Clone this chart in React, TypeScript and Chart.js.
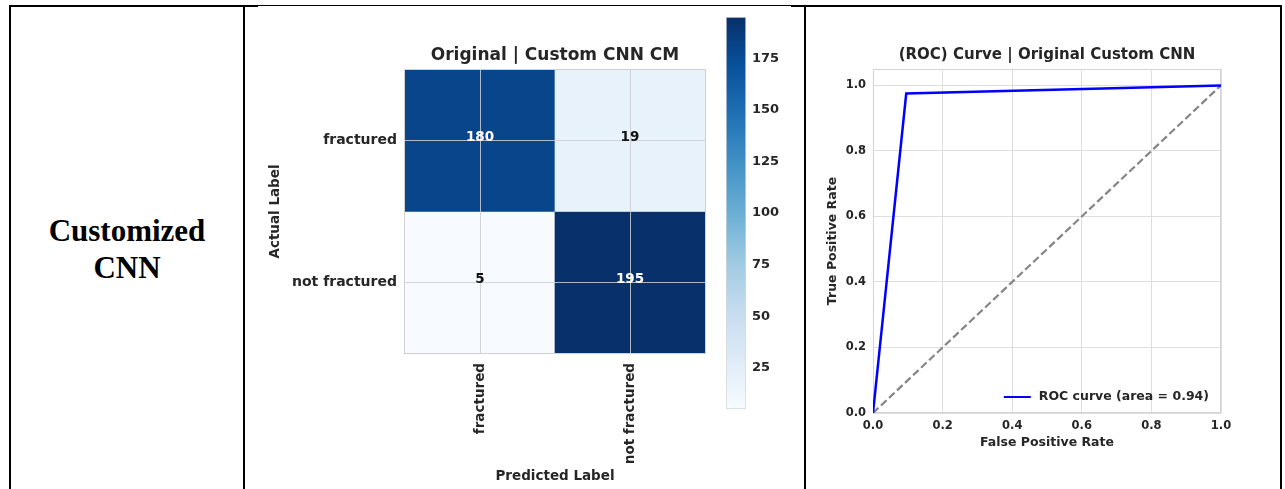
import React, { useEffect, useRef } from "react";
import { Chart, registerables } from "chart.js";
Chart.register(...registerables);

// ---------- data ----------
const rowTitleLines = ["Customized", "CNN"];

const cmTitle = "Original | Custom CNN CM";
const actualLabels = ["fractured", "not fractured"];
const predictedLabels = ["fractured", "not fractured"];
const cmRowFractured = [180, 19];
const cmRowNotFractured = [5, 195];
const colorbarTicks = [25, 50, 75, 100, 125, 150, 175];

const rocTitle = "(ROC) Curve | Original Custom CNN";
const rocFpr = [0, 0.0955, 1];
const rocTpr = [0, 0.975, 1];
const chanceFpr = [0, 1];
const chanceTpr = [0, 1];
const rocAuc = 0.94;
const rocTicks = [0, 0.2, 0.4, 0.6, 0.8, 1.0];

// ---------- style helpers ----------
const BLUES = ["#f7fbff", "#deebf7", "#c6dbef", "#9ecae1", "#6baed6", "#4292c6", "#2171b5", "#08519c", "#08306b"];
const FONT = "DejaVu Sans";
const TXT = "#262626";

function hexToRgb(h: string) {
  const n = parseInt(h.slice(1), 16);
  return [(n >> 16) & 255, (n >> 8) & 255, n & 255];
}
function blues(t: number) {
  const c = Math.max(0, Math.min(1, t));
  const pos = c * (BLUES.length - 1);
  const i = Math.min(BLUES.length - 2, Math.floor(pos));
  const f = pos - i;
  const a = hexToRgb(BLUES[i]);
  const b = hexToRgb(BLUES[i + 1]);
  const m = a.map((v, k) => Math.round(v + (b[k] - v) * f));
  return `rgb(${m[0]},${m[1]},${m[2]})`;
}

// title centred over the plot area (like matplotlib's axes title)
function axesTitle(text: string, size: number, gapAbove: number) {
  return {
    id: "axesTitle",
    afterDraw(chart: any) {
      const { ctx, chartArea: a } = chart;
      ctx.save();
      ctx.font = `bold ${size}px "${FONT}"`;
      ctx.fillStyle = TXT;
      ctx.textAlign = "center";
      ctx.textBaseline = "middle";
      ctx.fillText(text, (a.left + a.right) / 2, a.top - gapAbove);
      ctx.restore();
    },
  };
}

export default function App() {
  const cmRef = useRef<HTMLCanvasElement>(null);
  const cbRef = useRef<HTMLCanvasElement>(null);
  const rocRef = useRef<HTMLCanvasElement>(null);

  useEffect(() => {
    const charts: Chart[] = [];
    const matrix = [cmRowFractured, cmRowNotFractured];
    const nRows = matrix.length;
    const flat = matrix.flat();
    const vmin = Math.min(...flat);
    const vmax = Math.max(...flat);
    const thresh = (vmin + vmax) / 2;

    // ---------- confusion matrix ----------
    const cmDatasets = matrix.map((row, r) => ({
      label: actualLabels[r],
      data: row.map(() => [nRows - 1 - r, nRows - r]),
      backgroundColor: row.map((v) => blues((v - vmin) / (vmax - vmin))),
      borderWidth: 0,
      barPercentage: 1,
      categoryPercentage: 1,
      grouped: false,
    }));

    const cmPlugin = {
      id: "cmExtras",
      beforeDatasetsDraw(chart: any) {
        const { ctx, chartArea: a } = chart;
        ctx.save();
        ctx.strokeStyle = "#d0d0d0";
        ctx.lineWidth = 1;
        ctx.strokeRect(a.left - 0.5, a.top - 0.5, a.right - a.left + 1, a.bottom - a.top + 1);
        ctx.restore();
      },
      afterDraw(chart: any) {
        const { ctx } = chart;
        ctx.save();
        ctx.font = `bold 13.5px "${FONT}"`;
        ctx.textAlign = "center";
        ctx.textBaseline = "middle";
        matrix.forEach((row, r) => {
          const meta = chart.getDatasetMeta(r);
          row.forEach((v, c) => {
            const el: any = meta.data[c];
            const cy = (el.y + el.base) / 2;
            ctx.fillStyle = v > thresh ? "#ffffff" : "#111111";
            ctx.fillText(String(v), el.x, cy - 3);
          });
        });
        ctx.restore();
      },
    };

    const cmGrid = { display: true, offset: false, drawTicks: false, color: "rgba(205,205,212,0.85)", lineWidth: 1, z: 1 };

    charts.push(
      new Chart(cmRef.current!, {
        type: "bar",
        data: { labels: predictedLabels, datasets: cmDatasets as any },
        plugins: [cmPlugin, axesTitle(cmTitle, 17, 14)],
        options: {
          responsive: false,
          animation: false,
          layout: { padding: { left: 0, right: 10, top: 45, bottom: 0 } },
          plugins: {
            legend: { display: false },
            tooltip: { enabled: false },
            title: { display: false },
          },
          scales: {
            x: {
              type: "category",
              grid: cmGrid,
              border: { display: false },
              ticks: {
                minRotation: 90,
                maxRotation: 90,
                padding: 10,
                color: TXT,
                font: { family: FONT, weight: "bold", size: 13.5 },
              },
              title: {
                display: true,
                text: "Predicted Label",
                color: TXT,
                font: { family: FONT, weight: "bold", size: 13.5 },
                padding: { top: 0, bottom: 4 },
              },
              afterFit: (s: any) => {
                s.height = 136;
              },
            },
            y: {
              type: "linear",
              min: 0,
              max: nRows,
              grid: { ...cmGrid, offset: undefined },
              border: { display: false },
              afterBuildTicks: (s: any) => {
                s.ticks = actualLabels.map((_, r) => ({ value: nRows - r - 0.5 }));
              },
              ticks: {
                padding: 8,
                color: TXT,
                font: { family: FONT, weight: "bold", size: 14 },
                callback: (v: any) => actualLabels[Math.round(nRows - 0.5 - Number(v))],
              },
              title: {
                display: true,
                text: "Actual Label",
                color: TXT,
                font: { family: FONT, weight: "bold", size: 13.5 },
                padding: { top: 12, bottom: 0 },
              },
              afterFit: (s: any) => {
                s.width = 150;
              },
            },
          },
        } as any,
      })
    );

    // ---------- colorbar ----------
    charts.push(
      new Chart(cbRef.current!, {
        type: "bar",
        data: {
          labels: [""],
          datasets: [
            {
              data: [[vmin, vmax]],
              backgroundColor: (c: any) => {
                const { chart } = c;
                const { ctx, chartArea, scales } = chart;
                if (!chartArea) return BLUES[4];
                const y0 = scales.y.getPixelForValue(vmin);
                const y1 = scales.y.getPixelForValue(vmax);
                const g = ctx.createLinearGradient(0, y0, 0, y1);
                BLUES.forEach((col, i) => g.addColorStop(i / (BLUES.length - 1), col));
                return g;
              },
              borderColor: "#d6d6d6",
              borderWidth: 1,
              borderSkipped: false,
              barPercentage: 1,
              categoryPercentage: 1,
            } as any,
          ],
        },
        options: {
          responsive: false,
          animation: false,
          layout: { padding: { left: 11, right: 0, top: 17, bottom: 21 } },
          plugins: { legend: { display: false }, tooltip: { enabled: false } },
          scales: {
            x: { display: false },
            y: {
              position: "right",
              min: vmin,
              max: vmax,
              grid: { display: false, drawTicks: false },
              border: { display: false },
              afterBuildTicks: (s: any) => {
                s.ticks = colorbarTicks.map((v) => ({ value: v }));
              },
              ticks: {
                padding: 6,
                color: TXT,
                font: { family: FONT, weight: "bold", size: 13 },
              },
              afterFit: (s: any) => {
                s.width = 59;
              },
            },
          },
        } as any,
      })
    );

    // ---------- ROC ----------
    const rocPlugin = {
      id: "rocExtras",
      beforeDatasetsDraw(chart: any) {
        const { ctx, chartArea: a } = chart;
        ctx.save();
        ctx.strokeStyle = "#d4d4d4";
        ctx.lineWidth = 1;
        ctx.strokeRect(a.left + 0.5, a.top + 0.5, a.right - a.left - 1, a.bottom - a.top - 1);
        ctx.restore();
      },
      afterDraw(chart: any) {
        const { ctx, chartArea: a } = chart;
        const text = `ROC curve (area = ${rocAuc.toFixed(2)})`;
        ctx.save();
        ctx.font = `bold 12.5px "${FONT}"`;
        const w = ctx.measureText(text).width;
        const xText = a.right - 12 - w;
        const y = a.bottom - 16;
        ctx.strokeStyle = "#0000ff";
        ctx.lineWidth = 2;
        ctx.beginPath();
        ctx.moveTo(xText - 35, y);
        ctx.lineTo(xText - 8, y);
        ctx.stroke();
        ctx.fillStyle = TXT;
        ctx.textBaseline = "middle";
        ctx.textAlign = "left";
        ctx.fillText(text, xText, y);
        ctx.restore();
      },
    };

    const tickFont = { family: FONT, weight: "bold", size: 11.5 };
    const axTitleFont = { family: FONT, weight: "bold", size: 12.5 };
    charts.push(
      new Chart(rocRef.current!, {
        type: "scatter",
        data: {
          datasets: [
            {
              label: `ROC curve (area = ${rocAuc.toFixed(2)})`,
              data: rocFpr.map((x, i) => ({ x, y: rocTpr[i] })),
              showLine: true,
              borderColor: "#0000ff",
              borderWidth: 2.5,
              pointRadius: 0,
              fill: false,
            },
            {
              label: "chance",
              data: chanceFpr.map((x, i) => ({ x, y: chanceTpr[i] })),
              showLine: true,
              borderColor: "#858585",
              borderWidth: 2.2,
              borderDash: [7.6, 3.4],
              pointRadius: 0,
              fill: false,
            },
          ],
        },
        plugins: [rocPlugin, axesTitle(rocTitle, 15, 14)],
        options: {
          responsive: false,
          animation: false,
          layout: { padding: { left: 0, right: 59, top: 44, bottom: 0 } },
          plugins: {
            legend: { display: false },
            tooltip: { enabled: false },
            title: { display: false },
          },
          scales: {
            x: {
              type: "linear",
              min: 0,
              max: 1,
              grid: { color: "#dedede", lineWidth: 1, drawTicks: false },
              border: { display: false },
              afterBuildTicks: (s: any) => {
                s.ticks = rocTicks.map((v) => ({ value: v }));
              },
              ticks: {
                padding: 6,
                color: TXT,
                font: tickFont,
                maxRotation: 0,
                callback: (v: any) => Number(v).toFixed(1),
              },
              title: {
                display: true,
                text: "False Positive Rate",
                color: TXT,
                font: axTitleFont,
                padding: { top: 0, bottom: 38.5 },
              },
              afterFit: (s: any) => {
                s.height = 76;
              },
            },
            y: {
              type: "linear",
              min: 0,
              max: 1.05,
              grid: { color: "#dedede", lineWidth: 1, drawTicks: false },
              border: { display: false },
              afterBuildTicks: (s: any) => {
                s.ticks = rocTicks.map((v) => ({ value: v }));
              },
              ticks: {
                padding: 7,
                color: TXT,
                font: tickFont,
                callback: (v: any) => Number(v).toFixed(1),
              },
              title: {
                display: true,
                text: "True Positive Rate",
                color: TXT,
                font: axTitleFont,
                padding: { top: 10.5, bottom: 0 },
              },
              afterFit: (s: any) => {
                s.width = 58;
              },
            },
          },
        } as any,
      })
    );

    return () => charts.forEach((c) => c.destroy());
  }, []);

  const line = (left: number, top: number, width: number, height: number) => (
    <div style={{ position: "absolute", left, top, width, height, background: "#000" }} />
  );

  return (
    <div
      style={{
        position: "fixed",
        left: 0,
        top: 0,
        width: 1285,
        height: 489,
        background: "#fff",
        overflow: "hidden",
      }}
    >
      <div
        style={{
          position: "absolute",
          left: 11,
          top: 212,
          width: 232,
          textAlign: "center",
          fontFamily: '"Liberation Serif", "Times New Roman", serif',
          fontWeight: "bold",
          fontSize: 31,
          lineHeight: "37px",
          color: "#000",
        }}
      >
        {rowTitleLines[0]}
        <br />
        {rowTitleLines[1]}
      </div>

      <canvas
        ref={cmRef}
        width={460}
        height={464}
        style={{ position: "absolute", left: 255, top: 25, width: 460, height: 464 }}
      />
      <canvas
        ref={cbRef}
        width={90}
        height={430}
        style={{ position: "absolute", left: 715, top: 0, width: 90, height: 430 }}
      />
      <canvas
        ref={rocRef}
        width={465}
        height={464}
        style={{ position: "absolute", left: 815, top: 25, width: 465, height: 464 }}
      />

      {line(9, 5, 249, 2)}
      {line(258, 5, 533, 1)}
      {line(791, 5, 491, 2)}
      {line(9, 5, 2, 484)}
      {line(243, 5, 2, 484)}
      {line(804, 5, 2, 484)}
      {line(1280, 5, 2, 484)}
    </div>
  );
}
